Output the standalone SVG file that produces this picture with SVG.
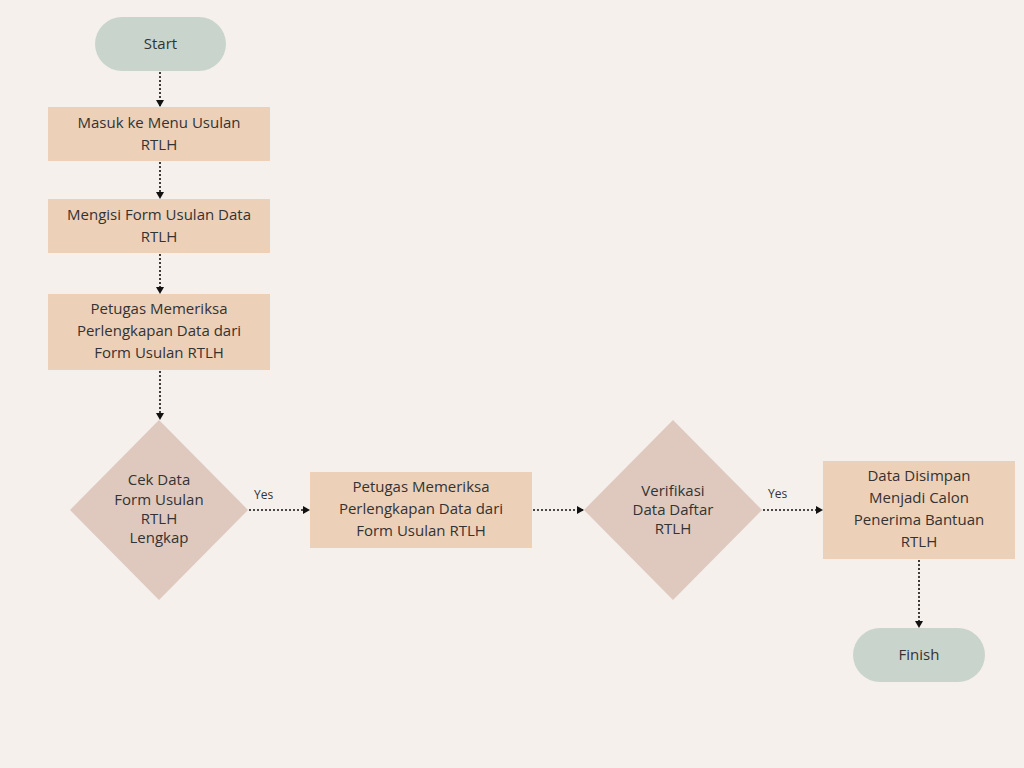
<svg xmlns="http://www.w3.org/2000/svg" width="1024" height="768" viewBox="0 0 1024 768">
<defs>
<marker id="ah" markerWidth="8" markerHeight="8" refX="6" refY="4" orient="auto" markerUnits="userSpaceOnUse"><path d="M0,0 L7,4 L0,8 Z" fill="#111"/></marker>
<style>
.t{font-family:"Open Sans","Liberation Sans",sans-serif;font-size:15px;fill:#333;text-anchor:middle}
.s{font-family:"Open Sans","Liberation Sans",sans-serif;font-size:12px;fill:#333}
.p{fill:#C9D5CC}.r{fill:#EDD0B8}.d{fill:#DFC9BF}
.c{stroke:#111;stroke-width:1.6;stroke-dasharray:2,2;fill:none;marker-end:url(#ah)}
</style>
</defs>
<rect width="1024" height="768" fill="#F5F0EB"/>
<g id="connectors">
<line class="c" x1="160" y1="72" x2="160" y2="106"/>
<line class="c" x1="160" y1="162" x2="160" y2="198"/>
<line class="c" x1="160" y1="254" x2="160" y2="293"/>
<line class="c" x1="160" y1="371" x2="160" y2="419"/>
<line class="c" x1="249" y1="510" x2="309" y2="510"/>
<line class="c" x1="533" y1="510" x2="583" y2="510"/>
<line class="c" x1="763" y1="510" x2="822" y2="510"/>
<line class="c" x1="919" y1="560" x2="919" y2="627"/>
<text class="s" x="254" y="499">Yes</text>
<text class="s" x="768" y="498">Yes</text>
</g>
<g id="start"><rect class="p" x="95" y="17" width="131" height="54" rx="27"/><text class="t" x="160.500" y="49">Start</text></g>
<g id="n1"><rect class="r" x="48" y="107" width="222" height="54"/><text class="t" x="159" y="128">Masuk ke Menu Usulan</text><text class="t" x="159" y="150">RTLH</text></g>
<g id="n2"><rect class="r" x="48" y="199" width="222" height="54"/><text class="t" x="159" y="220">Mengisi Form Usulan Data</text><text class="t" x="159" y="242">RTLH</text></g>
<g id="n3"><rect class="r" x="48" y="294" width="222" height="76"/><text class="t" x="159" y="314">Petugas Memeriksa</text><text class="t" x="159" y="336">Perlengkapan Data dari</text><text class="t" x="159" y="358">Form Usulan RTLH</text></g>
<g id="d1"><polygon class="d" points="159,420 248,510 159,600 70,510"/><text class="t" x="159" y="485">Cek Data</text><text class="t" x="159" y="505">Form Usulan</text><text class="t" x="159" y="524">RTLH</text><text class="t" x="159" y="543">Lengkap</text></g>
<g id="n4"><rect class="r" x="310" y="472" width="222" height="76"/><text class="t" x="421" y="492">Petugas Memeriksa</text><text class="t" x="421" y="514">Perlengkapan Data dari</text><text class="t" x="421" y="536">Form Usulan RTLH</text></g>
<g id="d2"><polygon class="d" points="673,420 762,510 673,600 584,510"/><text class="t" x="673" y="496">Verifikasi</text><text class="t" x="673" y="515">Data Daftar</text><text class="t" x="673" y="534">RTLH</text></g>
<g id="n5"><rect class="r" x="823" y="461" width="192" height="98"/><text class="t" x="919" y="481">Data Disimpan</text><text class="t" x="919" y="503">Menjadi Calon</text><text class="t" x="919" y="525">Penerima Bantuan</text><text class="t" x="919" y="547">RTLH</text></g>
<g id="finish"><rect class="p" x="853" y="628" width="132" height="54" rx="27"/><text class="t" x="919" y="660">Finish</text></g>
</svg>
